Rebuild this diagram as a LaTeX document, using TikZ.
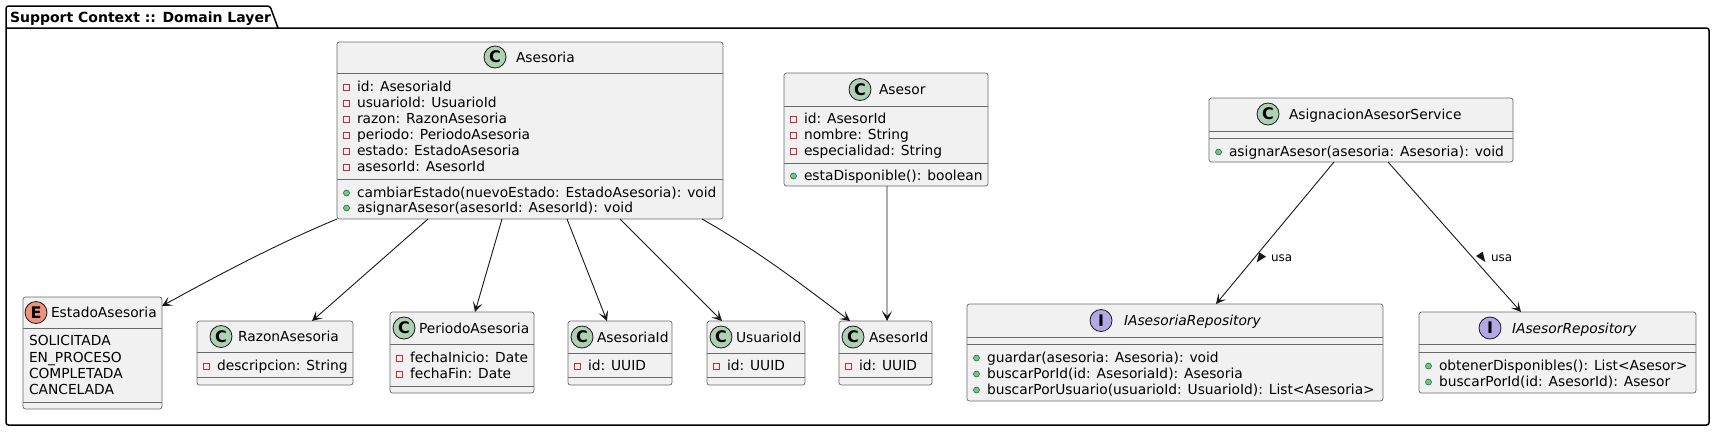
\documentclass[tikz,border=0pt]{standalone}
\usepackage{fontspec}
\setmainfont{DejaVu Sans}
\usetikzlibrary{arrows.meta,calc}
\definecolor{boxfill}{HTML}{F1F1F1}
\definecolor{boxline}{HTML}{181818}
\definecolor{cfill}{HTML}{ADD1B2}
\definecolor{efill}{HTML}{EB937F}
\definecolor{ifill}{HTML}{B4A7E5}
\definecolor{privred}{HTML}{C82930}
\definecolor{pubfill}{HTML}{84BE84}
\definecolor{publine}{HTML}{038048}
\tikzset{
  clsbox/.style={draw=boxline!65, fill=boxfill, line width=0.7bp, rounded corners=2.5bp, inner sep=0, outer sep=0},
  sepline/.style={draw=boxline!65, line width=0.7bp},
  pkgline/.style={draw=black, line width=1.5bp, rounded corners=2.5bp},
  arr/.style={draw=boxline, line width=0.9bp, -{Stealth[length=10bp,width=10bp,inset=5bp]}},
  txt/.style={anchor=base west, inner sep=0, outer sep=0},
  badge/.style={circle, draw=boxline, line width=0.8bp, minimum size=22bp, inner sep=0, font=\fontsize{16bp}{18bp}\selectfont\bfseries},
  lbl/.style={anchor=base west, inner sep=0, outer sep=0, font=\fontsize{12bp}{14bp}\selectfont},
}
\newcommand\mkbox[5]{%
  \pgfmathsetmacro\bw{#4-#2}\pgfmathsetmacro\bh{#5-#3}%
  \node[clsbox, minimum width=\bw bp, minimum height=\bh bp] (#1) at ({(#2+#4)/2},{(#3+#5)/2}) {};}
\newcommand\hsep[3]{\draw[sepline] (#1,#3) -- (#2,#3);}
\newcommand\hdr[7]{%
  \node[badge, fill=#3] (#1c) at (#4,#6) {#2};
  \node[txt] (#1n) at (#5,#6+5) {#7};}
\newcommand\pattr[4]{%
  \draw[privred, line width=0.8bp] (#2+6.5,#3-1.5) rectangle (#2+12.5,#3+4.5);
  \node[txt] (#1) at (#2+20,#3+5) {#4};}
\newcommand\pmeth[4]{%
  \filldraw[fill=pubfill, draw=publine, line width=0.6bp] (#2+9.5,#3+1) circle (3bp);
  \node[txt] (#1) at (#2+20,#3+5) {#4};}
\newcommand\evalue[4]{\node[txt] (#1) at (#2+6,#3+5) {#4};}

\begin{document}
\begin{tikzpicture}[x=1bp,y=-1bp,font=\fontsize{13.8bp}{16bp}\selectfont]
\useasboundingbox (0,0) rectangle (1717,431);

% package frame
\draw[pkgline] (6,28) -- (1709,28) -- (1709,425) -- (6,425) -- (6,6) -- (270,6) -- (278,28);
\node[txt, font=\fontsize{14bp}{16bp}\selectfont\bfseries] (pkg) at (10,22) {Support Context :: Domain Layer};

% Asesoria
\mkbox{asesoria}{337}{42}{723}{219}
\hsep{337}{723}{73}\hsep{337}{723}{179}
\hdr{asesoria}{C}{cfill}{495}{516}{57}{Asesoria}
\pattr{aa1}{337}{86}{id: AsesoriaId}
\pattr{aa2}{337}{102}{usuarioId: UsuarioId}
\pattr{aa3}{337}{118}{razon: RazonAsesoria}
\pattr{aa4}{337}{134}{periodo: PeriodoAsesoria}
\pattr{aa5}{337}{150}{estado: EstadoAsesoria}
\pattr{aa6}{337}{166}{asesorId: AsesorId}
\pmeth{am1}{337}{192}{cambiarEstado(nuevoEstado: EstadoAsesoria): void}
\pmeth{am2}{337}{207}{asignarAsesor(asesorId: AsesorId): void}

% Asesor
\mkbox{asesor}{784}{73}{988}{186}
\hsep{784}{988}{106}\hsep{784}{988}{163}
\hdr{asesor}{C}{cfill}{860}{879}{89.5}{Asesor}
\pattr{sa1}{784}{118}{id: AsesorId}
\pattr{sa2}{784}{134}{nombre: String}
\pattr{sa3}{784}{150}{especialidad: String}
\pmeth{sm1}{784}{175}{estaDisponible(): boolean}

% AsignacionAsesorService
\mkbox{asign}{1209}{98}{1513}{162}
\hsep{1209}{1513}{131}\hsep{1209}{1513}{138}
\hdr{asign}{C}{cfill}{1268}{1289}{114}{AsignacionAsesorService}
\pmeth{gm1}{1209}{151}{asignarAsesor(asesoria: Asesoria): void}

% EstadoAsesoria
\mkbox{estado}{23}{297}{162}{409}
\hsep{23}{162}{328}\hsep{23}{162}{402}
\hdr{estado}{E}{efill}{36}{51}{312.5}{EstadoAsesoria}
\evalue{ev1}{23}{340}{SOLICITADA}
\evalue{ev2}{23}{357}{EN\_PROCESO}
\evalue{ev3}{23}{373}{COMPLETADA}
\evalue{ev4}{23}{389}{CANCELADA}

% RazonAsesoria
\mkbox{razon}{197}{321}{353}{385}
\hsep{197}{353}{352}\hsep{197}{353}{377}
\hdr{razon}{C}{cfill}{221}{238}{336.5}{RazonAsesoria}
\pattr{ra1}{197}{365}{descripcion: String}

% PeriodoAsesoria
\mkbox{periodo}{390}{312}{534}{393}
\hsep{390}{534}{344}\hsep{390}{534}{386}
\hdr{periodo}{C}{cfill}{404}{419}{328}{PeriodoAsesoria}
\pattr{pa1}{390}{357}{fechaInicio: Date}
\pattr{pa2}{390}{373}{fechaFin: Date}

% AsesoriaId
\mkbox{asesoriaid}{568}{321}{672}{385}
\hsep{568}{672}{353}\hsep{568}{672}{377}
\hdr{asesoriaid}{C}{cfill}{582}{597}{337}{AsesoriaId}
\pattr{ia1}{568}{365}{id: UUID}

% UsuarioId
\mkbox{usuarioid}{707}{321}{805}{385}
\hsep{707}{805}{353}\hsep{707}{805}{377}
\hdr{usuarioid}{C}{cfill}{721}{736}{337}{UsuarioId}
\pattr{ua1}{707}{365}{id: UUID}

% AsesorId
\mkbox{asesorid}{839}{321}{932}{385}
\hsep{839}{932}{353}\hsep{839}{932}{377}
\hdr{asesorid}{C}{cfill}{853}{869}{337}{AsesorId}
\pattr{da1}{839}{365}{id: UUID}

% IAsesoriaRepository
\mkbox{iasesoria}{967}{304}{1383}{401}
\hsep{967}{1383}{337}\hsep{967}{1383}{344}
\hdr{iasesoria}{I}{ifill}{1101}{1124}{320.5}{\itshape IAsesoriaRepository}
\pmeth{rm1}{967}{357}{guardar(asesoria: Asesoria): void}
\pmeth{rm2}{967}{373}{buscarPorId(id: AsesoriaId): Asesoria}
\pmeth{rm3}{967}{389}{buscarPorUsuario(usuarioId: UsuarioId): List<Asesoria>}

% IAsesorRepository
\mkbox{iasesor}{1419}{312}{1696}{393}
\hsep{1419}{1696}{344}\hsep{1419}{1696}{352}
\hdr{iasesor}{I}{ifill}{1490}{1512}{328}{\itshape IAsesorRepository}
\pmeth{om1}{1419}{365}{obtenerDisponibles(): List<Asesor>}
\pmeth{om2}{1419}{381}{buscarPorId(id: AsesorId): Asesor}

% connectors
\draw[arr] (asesoria.south west) .. controls (280,242.5) and (220,274) .. ($(estado.north east)+(0,9)$);
\draw[arr] ($(asesoria.south west)+(91,0)$) -- ($(razon.north west)+(115,0)$);
\draw[arr] ($(asesoria.south west)+(165,0)$) -- ($(periodo.north west)+(85,0)$);
\draw[arr] ($(asesoria.south west)+(230,0)$) -- ($(asesoriaid.north west)+(39,0)$);
\draw[arr] ($(asesoria.south west)+(283,0)$) -- ($(usuarioid.north west)+(15,0)$);
\draw[arr] ($(asesoria.south west)+(365,0)$) .. controls (760,252) and (805,287) .. ($(asesorid.north west)+(11,0)$);
\draw[arr] ($(asesor.south west)+(103,0)$) -- ($(asesorid.north west)+(48,0)$);
\draw[arr] ($(asign.south west)+(125,0)$) -- ($(iasesoria.north west)+(249,0)$);
\draw[arr] ($(asign.south west)+(179,0)$) -- ($(iasesor.north west)+(102,0)$);

% labels
\fill[boxline] (1259.3,252.3) -- (1266,256.7) -- (1256.7,262.3) -- cycle;
\node[lbl] (usa1) at (1271,261.5) {usa};
\fill[boxline] (1476,256) -- (1482.7,251.7) -- (1485.3,262) -- cycle;
\node[lbl] (usa2) at (1491,261.5) {usa};
\end{tikzpicture}
\end{document}
